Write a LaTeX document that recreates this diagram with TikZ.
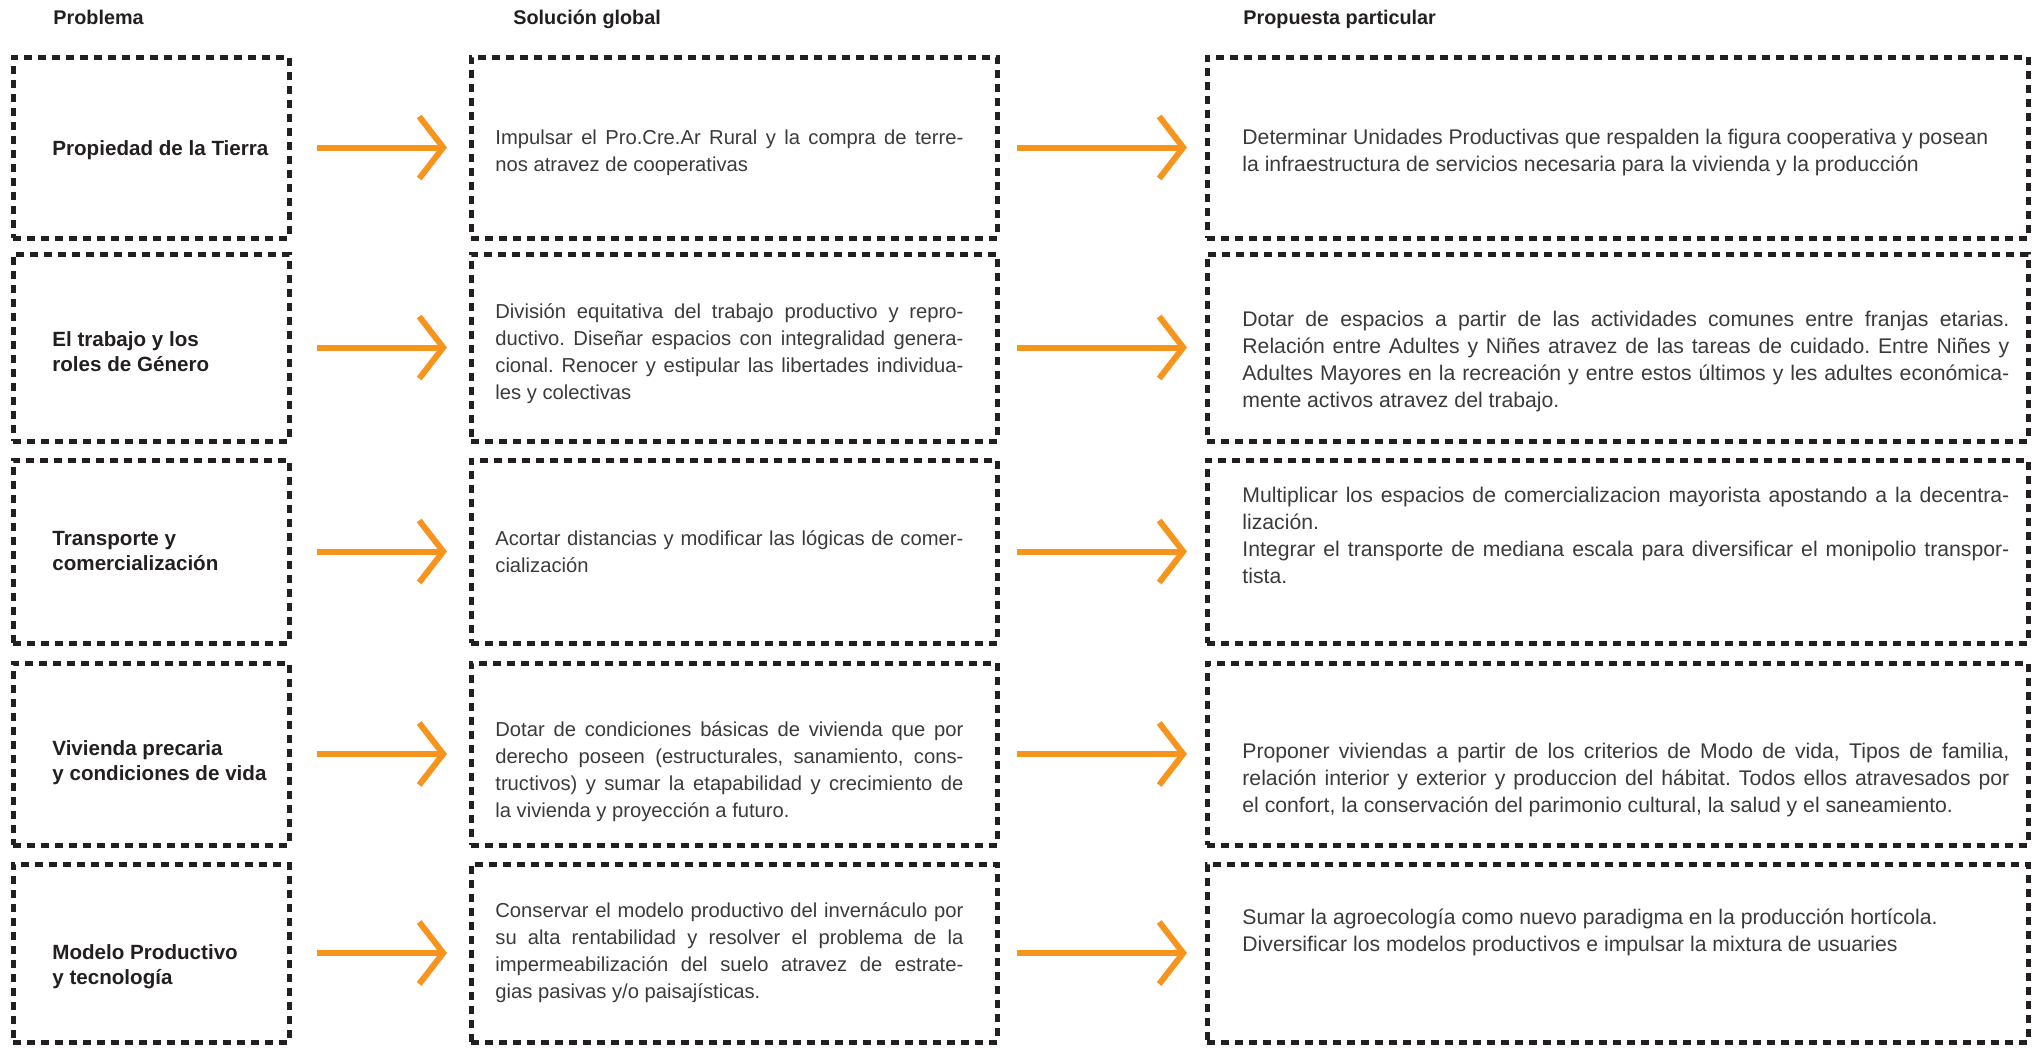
\documentclass[tikz,border=0pt]{standalone}
\usepackage{fontspec}
\setmainfont{Liberation Sans}
\usepackage{xcolor}
\definecolor{flowOrange}{HTML}{F7941D}
\definecolor{boxBlack}{HTML}{231F20}
\definecolor{textGray}{HTML}{3A3A3A}
\usetikzlibrary{arrows.meta, positioning}
\frenchspacing

\begin{document}
\begin{tikzpicture}[
		x=0.5pt, y=-0.5pt,
		box/.style={
			draw=boxBlack,
			line width=2.5pt,
			dash pattern=on 4pt off 3pt,
			inner sep=0pt,
			outer sep=0pt
		},
		head/.style={font=\fontsize{9.9pt}{12pt}\selectfont\bfseries, text=boxBlack, inner sep=0pt, anchor=base west},
		problem/.style={font=\fontsize{10.3pt}{12.5pt}\selectfont\bfseries, text=boxBlack, align=left, inner sep=0pt},
		body/.style={font=\fontsize{10.6pt}{13.5pt}\selectfont, text=textGray, align=justify, inner sep=0pt},
		bodynarrow/.style={body, font=\fontsize{10.1pt}{13.5pt}\selectfont},
		arrow/.style={draw=flowOrange, line width=3pt, -{Straight Barb[length=12pt, width=31pt]}}
		]
		\useasboundingbox (0,0) rectangle (2035,1049);
		
		% column titles
		\node[head] (hProb) at (53,25) {Problema};
		\node[head] (hSol) at (513,25) {Solución global};
		\node[head] (hProp) at (1243,25) {Propuesta particular};
		
		% problema
		\node[box, minimum width=138pt, minimum height=90.5pt] (prob1) at (151,147.5) {};
		\node[box, minimum width=138pt, minimum height=93.5pt] (prob2) at (151,347.5) {};
		\node[box, minimum width=138pt, minimum height=91.5pt] (prob3) at (151,551.5) {};
		\node[box, minimum width=138pt, minimum height=91pt] (prob4) at (151,754) {};
		\node[box, minimum width=138pt, minimum height=89pt] (prob5) at (151,953) {};
		
		\node[problem, right=19.5pt of prob1.west, yshift=-1.5pt] (prob1txt) {Propiedad de la Tierra};
		\node[problem, right=19.5pt of prob2.west, yshift=-2pt] (prob2txt) {El trabajo y los\\roles de Género};
		\node[problem, right=19.5pt of prob3.west] (prob3txt) {Transporte y\\comercialización};
		\node[problem, right=19.5pt of prob4.west, yshift=-4.5pt] (prob4txt) {Vivienda precaria\\y condiciones de vida};
		\node[problem, right=19.5pt of prob5.west, yshift=-7pt] (prob5txt) {Modelo Productivo\\y tecnología};
		
		% solucion global
		\node[box, minimum width=263pt, minimum height=90.5pt] (sol1) at (734,147.5) {};
		\node[box, minimum width=263pt, minimum height=93.5pt] (sol2) at (734,347.5) {};
		\node[box, minimum width=263pt, minimum height=91.5pt] (sol3) at (734,551.5) {};
		\node[box, minimum width=263pt, minimum height=91pt] (sol4) at (734,754) {};
		\node[box, minimum width=263pt, minimum height=89pt] (sol5) at (734,953) {};
		
		\node[bodynarrow, text width=234pt, right=12pt of sol1.west, yshift=-2.5pt] (sol1txt) {Impulsar el Pro.Cre.Ar Rural y la compra de terre-\linebreak nos atravez de cooperativas};
		\node[bodynarrow, text width=234pt, right=12pt of sol2.west, yshift=-3pt] (sol2txt) {División equitativa del trabajo productivo y repro-\linebreak ductivo. Diseñar espacios con integralidad genera-\linebreak cional. Renocer y estipular las libertades individua-\linebreak les y colectivas};
		\node[bodynarrow, text width=234pt, right=12pt of sol3.west] (sol3txt) {Acortar distancias y modificar las lógicas de comer-\linebreak cialización};
		\node[bodynarrow, text width=234pt, right=12pt of sol4.west, yshift=-9pt] (sol4txt) {Dotar de condiciones básicas de vivienda que por\linebreak derecho poseen (estructurales, sanamiento, cons-\linebreak tructivos) y sumar la etapabilidad y crecimiento de\linebreak la vivienda y proyección a futuro.};
		\node[bodynarrow, text width=234pt, right=12pt of sol5.west] (sol5txt) {Conservar el modelo productivo del invernáculo por\linebreak su alta rentabilidad y resolver el problema de la\linebreak impermeabilización del suelo atravez de estrate-\linebreak gias pasivas y/o paisajísticas.};
		
		% propuesta particular
		\node[box, minimum width=410.5pt, minimum height=90.5pt] (prop1) at (1617.5,147.5) {};
		\node[box, minimum width=410.5pt, minimum height=93.5pt] (prop2) at (1617.5,347.5) {};
		\node[box, minimum width=410.5pt, minimum height=91.5pt] (prop3) at (1617.5,551.5) {};
		\node[box, minimum width=410.5pt, minimum height=91pt] (prop4) at (1617.5,754) {};
		\node[box, minimum width=410.5pt, minimum height=89pt] (prop5) at (1617.5,953) {};
		
		\node[body, text width=383.5pt, right=17.5pt of prop1.west, yshift=-2.5pt] (prop1txt) {Determinar Unidades Productivas que respalden la figura cooperativa y posean\\la infraestructura de servicios necesaria para la vivienda y la producción};
		\node[body, text width=383.5pt, right=17.5pt of prop2.west, yshift=-7pt] (prop2txt) {Dotar de espacios a partir de las actividades comunes entre franjas etarias.\linebreak Relación entre Adultes y Niñes atravez de las tareas de cuidado. Entre Niñes y\linebreak Adultes Mayores en la recreación y entre estos últimos y les adultes económica-\linebreak mente activos atravez del trabajo.};
		\node[body, text width=383.5pt, right=17.5pt of prop3.west, yshift=8pt] (prop3txt) {Multiplicar los espacios de comercializacion mayorista apostando a la decentra-\linebreak lización.\\Integrar el transporte de mediana escala para diversificar el monipolio transpor-\linebreak tista.};
		\node[body, text width=383.5pt, right=17.5pt of prop4.west, yshift=-13pt] (prop4txt) {Proponer viviendas a partir de los criterios de Modo de vida, Tipos de familia,\linebreak relación interior y exterior y produccion del hábitat. Todos ellos atravesados por\linebreak el confort, la conservación del parimonio cultural, la salud y el saneamiento.};
		\node[body, text width=383.5pt, right=17.5pt of prop5.west, yshift=10.5pt] (prop5txt) {Sumar la agroecología como nuevo paradigma en la producción hortícola.\\Diversificar los modelos productivos e impulsar la mixtura de usuaries};
		
		% flechas
		\draw[arrow, shorten <=14pt, shorten >=12pt] (prob1) -- (sol1);
		\draw[arrow, shorten <=14pt, shorten >=12pt] (prob2) -- (sol2);
		\draw[arrow, shorten <=14pt, shorten >=12pt] (prob3) -- (sol3);
		\draw[arrow, shorten <=14pt, shorten >=12pt] (prob4) -- (sol4);
		\draw[arrow, shorten <=14pt, shorten >=12pt] (prob5) -- (sol5);
		
		\draw[arrow, shorten <=10pt, shorten >=10pt] (sol1) -- (prop1);
		\draw[arrow, shorten <=10pt, shorten >=10pt] (sol2) -- (prop2);
		\draw[arrow, shorten <=10pt, shorten >=10pt] (sol3) -- (prop3);
		\draw[arrow, shorten <=10pt, shorten >=10pt] (sol4) -- (prop4);
		\draw[arrow, shorten <=10pt, shorten >=10pt] (sol5) -- (prop5);
		
	\end{tikzpicture}
\end{document}
